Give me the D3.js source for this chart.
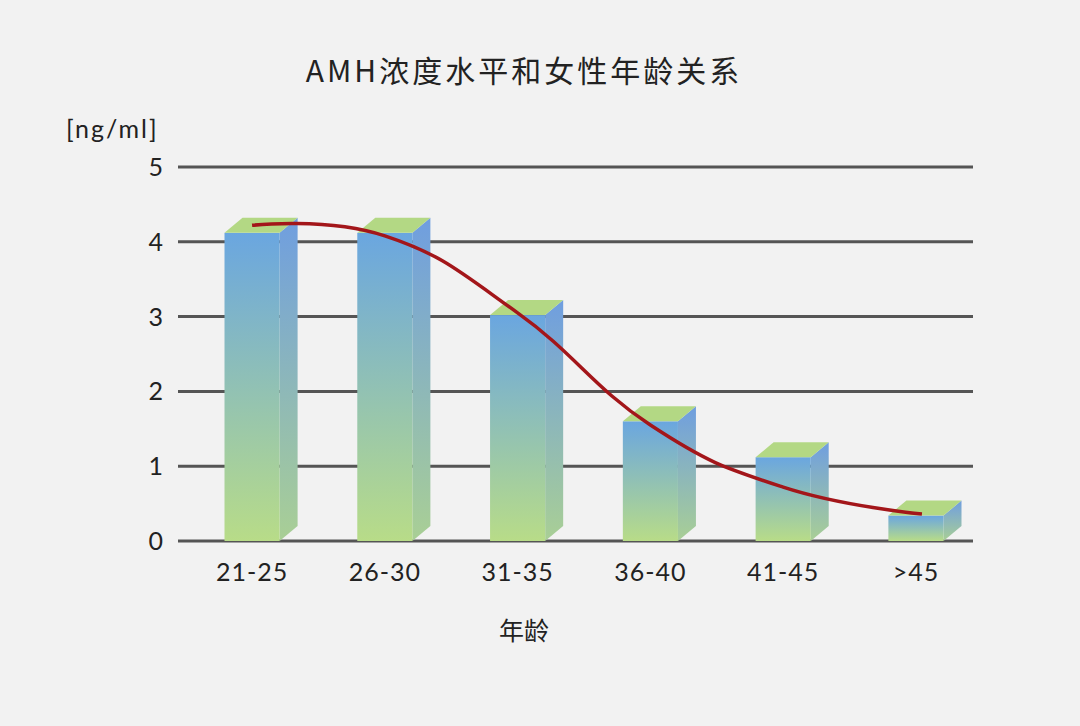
<!DOCTYPE html>
<html><head><meta charset="utf-8">
<script src="https://cdn.jsdelivr.net/npm/d3@7"></script>
<style>body{margin:0;background:#f2f2f2;}svg{display:block;}</style>
</head><body>
<script>
const categories = ["21-25","26-30","31-35","36-40","41-45",">45"];
const values = [4.12, 4.12, 3.02, 1.6, 1.12, 0.34];
const trendValues = [4.22, 4.08, 3.05, 1.55, 0.72, 0.36];
const yTicks = [0,1,2,3,4,5];

const W=1080,H=726;
const svg=d3.select("body").append("svg").attr("width",W).attr("height",H);
svg.append("rect").attr("width",W).attr("height",H).attr("fill","#f2f2f2");
const x=d3.scaleBand().domain(categories).range([186,982]).paddingInner(0.585).paddingOuter(0.29);
const y=d3.scaleLinear().domain([0,5]).range([541,167]);
const defs=svg.append("defs");
const g1=defs.append("linearGradient").attr("id","front").attr("x1",0).attr("y1",0).attr("x2",0).attr("y2",1);
g1.append("stop").attr("offset",0).attr("stop-color","#6aa6e0");
g1.append("stop").attr("offset",1).attr("stop-color","#b8dc88");
const g2=defs.append("linearGradient").attr("id","side").attr("x1",0).attr("y1",0).attr("x2",0).attr("y2",1);
g2.append("stop").attr("offset",0).attr("stop-color","#6f9ee0");
g2.append("stop").attr("offset",1).attr("stop-color","#a9cf95");

// grid
svg.append("g").selectAll("line").data(yTicks).join("line")
 .attr("x1",178).attr("x2",973).attr("y1",d=>y(d)).attr("y2",d=>y(d))
 .attr("stroke","#555").attr("stroke-width",3);
svg.append("g").selectAll("text").data(yTicks).join("text")
 .attr("x",163).attr("y",d=>y(d)+9).attr("text-anchor","end")
 .attr("font-family","Lato, 'Noto Sans'").attr("font-size",25).attr("fill","#222").text(d=>d);

const dx=18,dy=15;
const bars=svg.append("g").selectAll("g").data(categories).join("g");
bars.each(function(c,i){
  const g=d3.select(this), x0=x(c), bw=x.bandwidth(), top=y(values[i]), bot=y(0);
  g.append("path").attr("d",`M${x0+bw},${top}L${x0+bw+dx},${top-dy}L${x0+bw+dx},${bot-dy}L${x0+bw},${bot}Z`).attr("fill","url(#side)");
  g.append("rect").attr("x",x0).attr("y",top).attr("width",bw).attr("height",bot-top).attr("fill","url(#front)");
  g.append("path").attr("d",`M${x0},${top}L${x0+dx},${top-dy}L${x0+bw+dx},${top-dy}L${x0+bw},${top}Z`).attr("fill","#b3d884");
});

const line=d3.line().x((d,i)=>x(categories[i])+x.bandwidth()/2+(i==5?6:0)).y(d=>y(d)).curve(d3.curveCardinal.tension(-0.3));
svg.append("path").attr("d",line(trendValues)).attr("fill","none").attr("stroke","#a3161a").attr("stroke-width",3.5);

svg.append("g").selectAll("text").data(categories).join("text")
 .attr("x",d=>x(d)+x.bandwidth()/2).attr("y",581).attr("text-anchor","middle")
 .attr("font-family","Lato, 'Noto Sans'").attr("font-size",25).attr("fill","#222").attr("letter-spacing",1).text(d=>d);

svg.append("text").attr("x",524).attr("y",82).attr("text-anchor","middle")
 .attr("font-family","'Noto Sans CJK SC'").attr("font-size",30).attr("letter-spacing",3).attr("fill","#222").text("AMH浓度水平和女性年龄关系");
svg.append("text").attr("x",66).attr("y",138).attr("font-family","Lato, 'Noto Sans'").attr("font-size",25).attr("letter-spacing",2).attr("fill","#222").text("[ng/ml]");
svg.append("text").attr("x",524).attr("y",640).attr("text-anchor","middle")
 .attr("font-family","'Noto Sans CJK SC'").attr("font-size",25).attr("fill","#222").text("年龄");
</script>
</body></html>
